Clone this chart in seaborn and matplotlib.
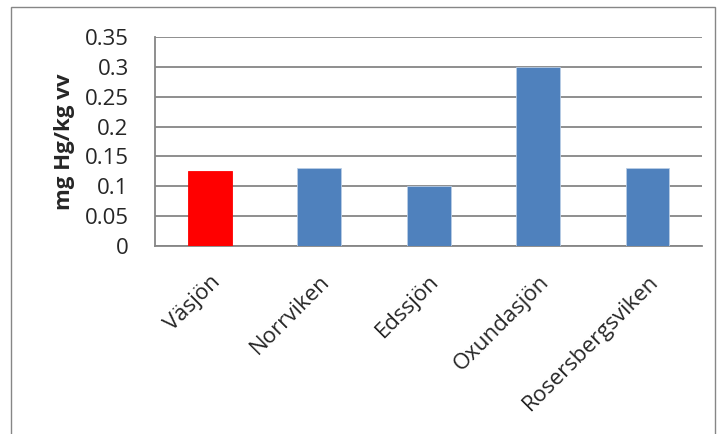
import matplotlib
matplotlib.use("Agg")
import matplotlib.pyplot as plt
import matplotlib.patches as mpatches
import seaborn as sns
import pandas as pd
import numpy as np

sns.set_style("white")
plt.rcParams['font.family'] = ['Open Sans', 'DejaVu Sans']

# data
lakes = ["Väsjön", "Norrviken", "Edssjön", "Oxundasjön", "Rosersbergsviken"]
hg = [0.125, 0.13, 0.10, 0.30, 0.13]
colors = ["#FF0000", "#4F81BD", "#4F81BD", "#4F81BD", "#4F81BD"]

df = pd.DataFrame({"lake": lakes, "hg": hg})

fig = plt.figure(figsize=(7.18, 4.34), dpi=100)
ax = fig.add_axes([0.216, 0.433, 0.762, 0.482])

sns.barplot(data=df, x="lake", y="hg", hue="lake", palette=colors, legend=False,
            saturation=1, width=0.4, ax=ax, edgecolor="#B9CDE5", linewidth=0.6, zorder=3)
for p in ax.patches[:1]:
    p.set_edgecolor("#FF0000")

ax.set_ylim(0, 0.35)
ax.set_xlim(-0.5, len(lakes) - 0.5)
ax.set_yticks(np.arange(0, 0.351, 0.05))
ax.set_yticklabels(["0", "0.05", "0.1", "0.15", "0.2", "0.25", "0.3", "0.35"], fontsize=16)
ax.yaxis.grid(True, color="#868686", linewidth=1.3, zorder=0)
ax.set_axisbelow(True)

ax.set_xticks(range(len(lakes)))
ax.set_xticklabels(lakes, rotation=45, ha="right", rotation_mode="anchor", fontsize=16)
ax.set_xticks(np.arange(-0.5, len(lakes), 1), minor=True)
ax.tick_params(axis="x", which="major", length=0, pad=18)
ax.tick_params(axis="x", which="minor", length=6, color="#868686", width=1.3, direction="out")
ax.tick_params(axis="y", length=7, color="#868686", width=1.3, direction="out", pad=12)

ax.set_xlabel("")
ax.set_ylabel("mg Hg/kg vv", fontsize=16, fontweight="bold", labelpad=7)

for side in ["top", "right"]:
    ax.spines[side].set_visible(False)
for side in ["left", "bottom"]:
    ax.spines[side].set_color("#868686")
    ax.spines[side].set_linewidth(1.3)

# outer chart border
fig.patches.append(mpatches.Rectangle((11 / 718, -0.05), 704 / 718, 1 - 7 / 434 + 0.05,
                                      transform=fig.transFigure, fill=False,
                                      edgecolor="#868686", linewidth=1))

fig.savefig("out.png", dpi=100)
